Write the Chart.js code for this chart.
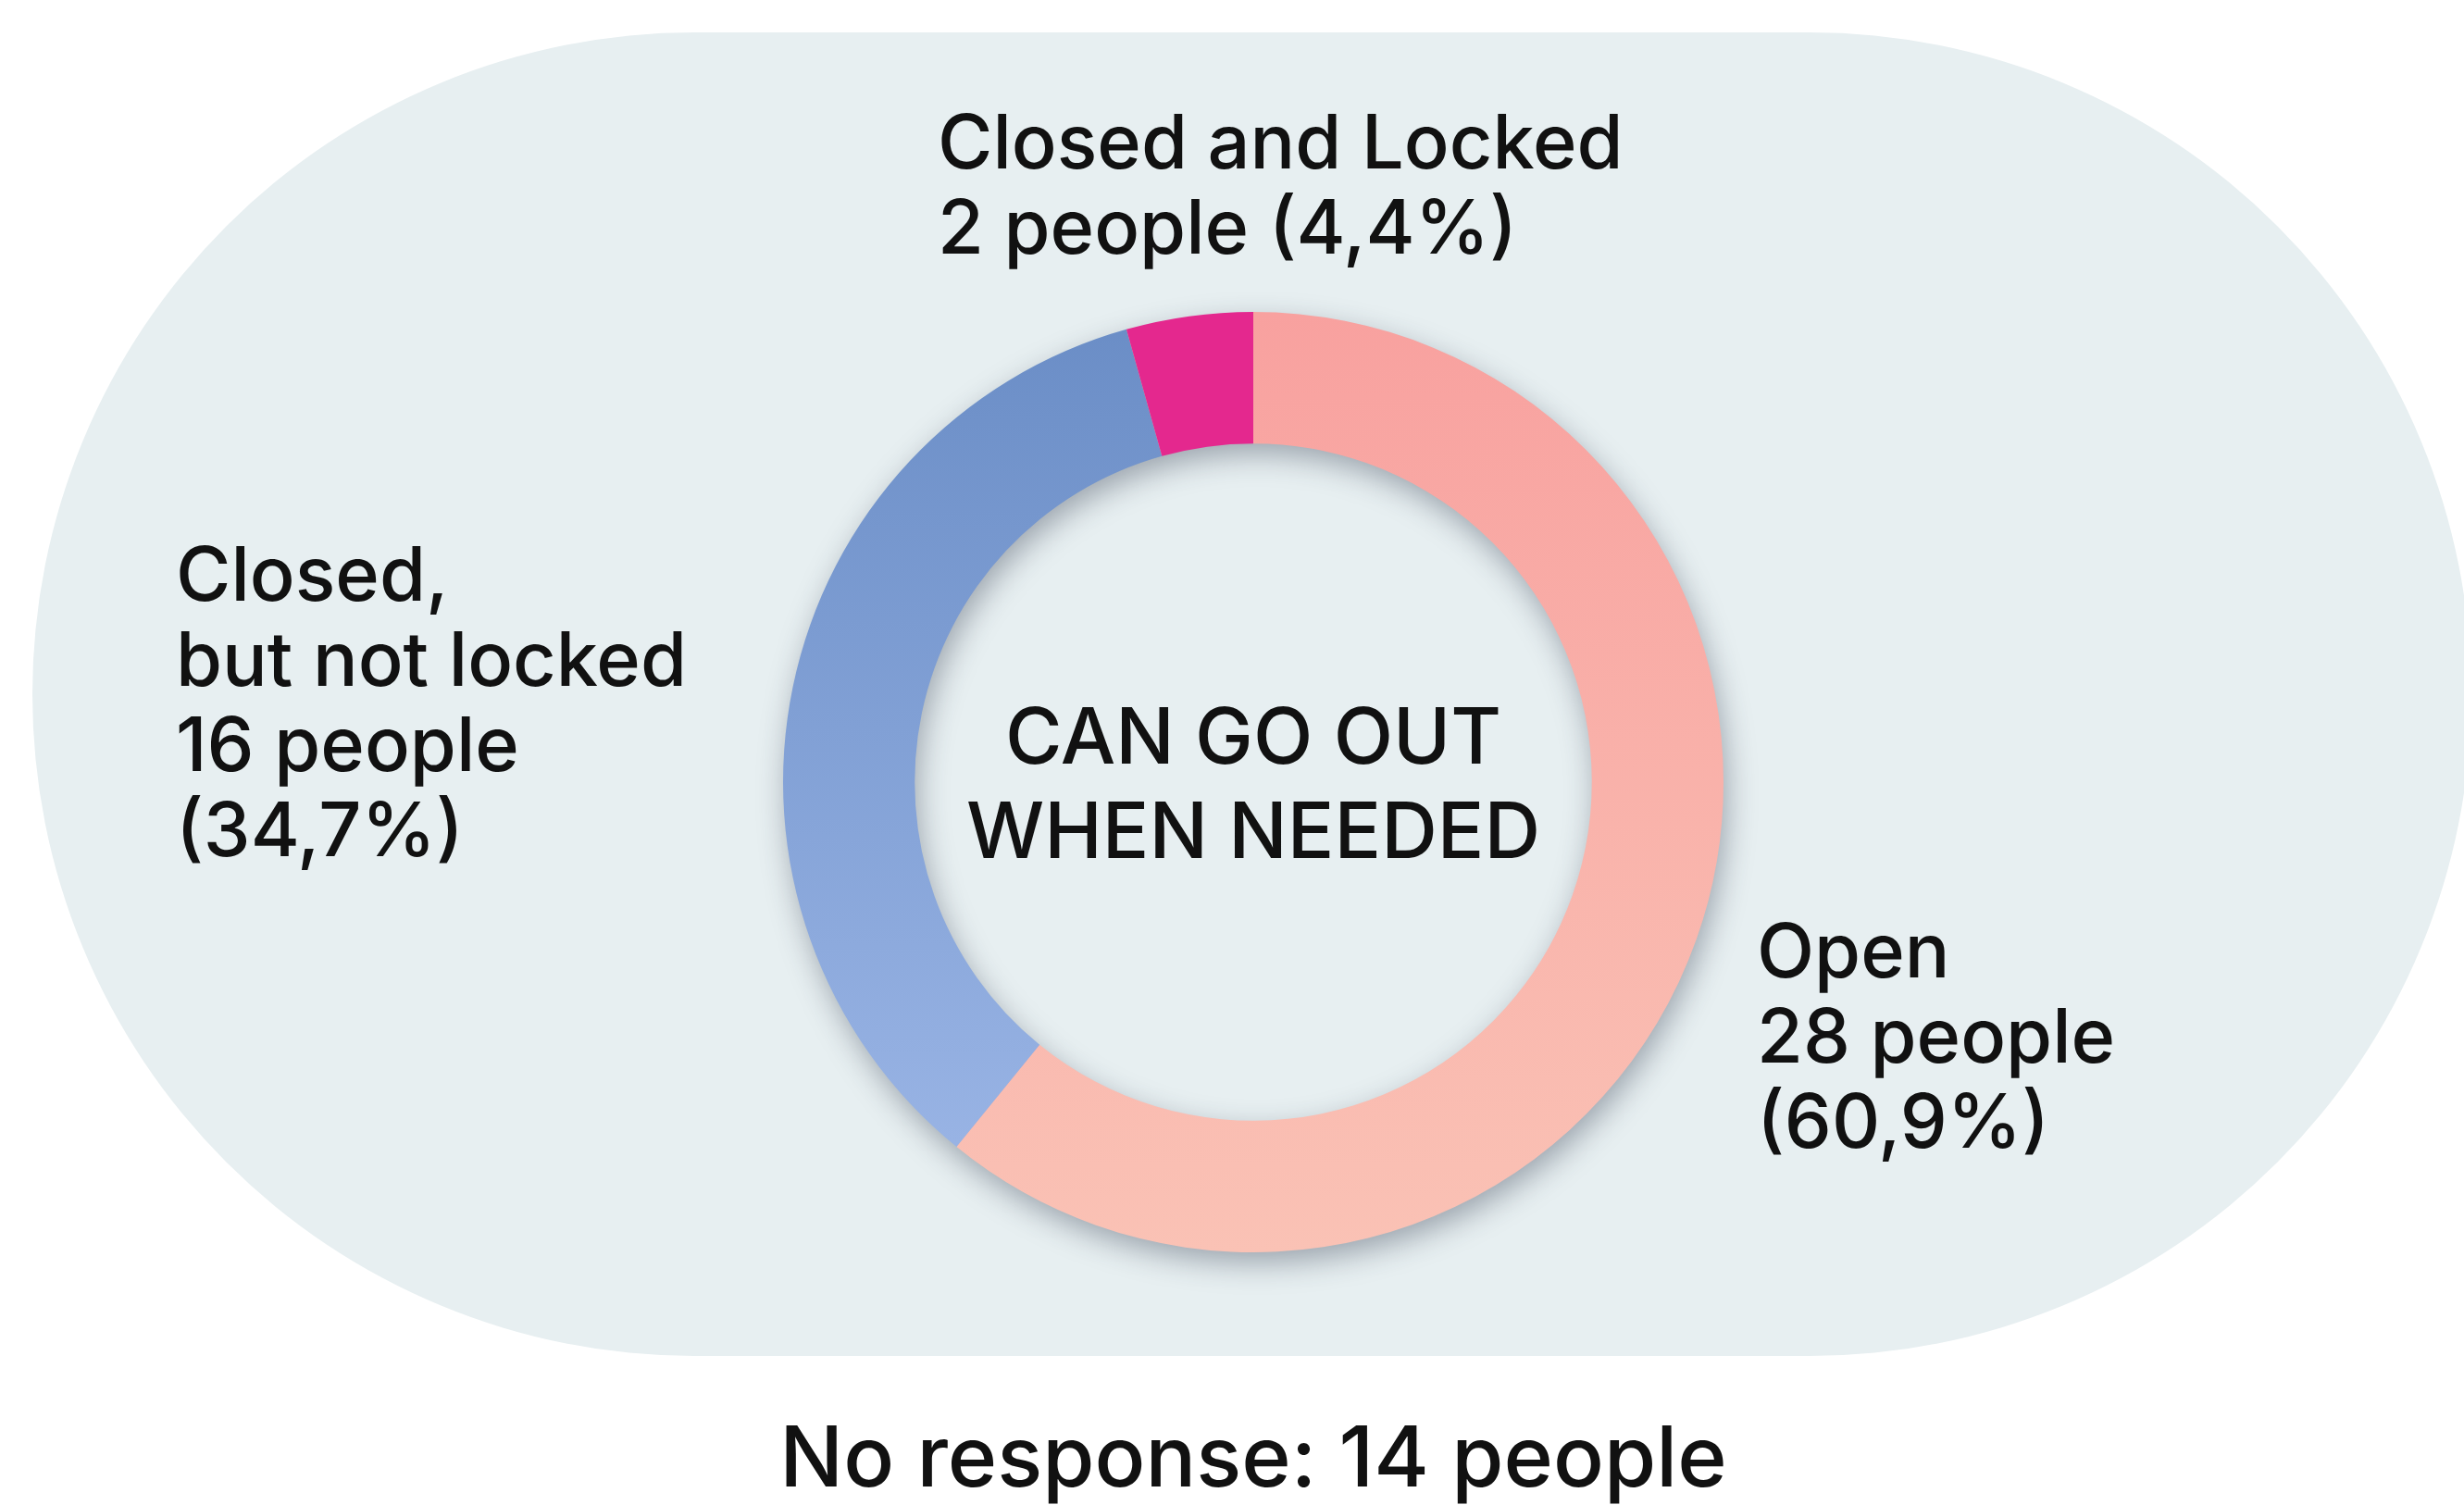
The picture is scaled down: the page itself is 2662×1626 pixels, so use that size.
<!DOCTYPE html>
<html>
<head>
<meta charset="utf-8">
<title>Can go out when needed</title>
<script src="https://cdn.jsdelivr.net/npm/chart.js@4.4.1/dist/chart.umd.min.js"></script>
<style>
  html, body { margin: 0; padding: 0; background: #fff; }
  #caixa { width: 2662px; height: 1626px; }
</style>
</head>
<body>
<div id="caixa"><canvas id="grafico"></canvas></div>
<script>
// Dados do gráfico
const categorias = [['Open'], ['Closed,', 'but not locked'], ['Closed and Locked']];
const pessoas = [28, 16, 2];
const percentuais = ['60,9', '34,7', '4,4'];
const semResposta = 14;
const textoCentro = ['CAN GO OUT', 'WHEN NEEDED'];

// Cores (topo -> base do anel)
const cores = [
    ['#F8A19F', '#FAC2B5'],
    ['#6A8DC6', '#9EB8E8'],
    ['#E4288E', '#E4288E']
];

// Posição de cada rótulo em relação ao centro do anel
const posRotulos = [
    { dx: 544, dy: 187, juntar: false },
    { dx: -1164, dy: -220, juntar: false },
    { dx: -341, dy: -687, juntar: true }
];

const FONTE = 'Inter, "Noto Sans", sans-serif';
const alturaLinha = 92;

function gradiente(chart, par) {
    const area = chart.chartArea;
    if (!area) return par[0];
    const g = chart.ctx.createLinearGradient(0, area.top, 0, area.bottom);
    g.addColorStop(0, par[0]);
    g.addColorStop(1, par[1]);
    return g;
}

// Fundo em forma de pílula
const fundoPilula = {
    id: 'fundoPilula',
    beforeDraw(chart) {
        const ctx = chart.ctx;
        ctx.save();
        ctx.fillStyle = '#E7EFF1';
        ctx.beginPath();
        ctx.roundRect(35, 35, 2635, 1430, 715);
        ctx.fill();
        ctx.restore();
    }
};

// Sombra suave por baixo do anel
const sombraAnel = {
    id: 'sombraAnel',
    beforeDatasetsDraw(chart) {
        const arco = chart.getDatasetMeta(0).data[0];
        if (!arco) return;
        const { x, y, innerRadius, outerRadius } = arco;
        const ctx = chart.ctx;
        ctx.save();
        ctx.shadowColor = 'rgba(40, 50, 70, 0.4)';
        ctx.shadowBlur = 32;
        ctx.shadowOffsetX = 4;
        ctx.shadowOffsetY = 12;
        ctx.fillStyle = '#F4B0A8';
        ctx.beginPath();
        ctx.arc(x, y, outerRadius - 1, 0, Math.PI * 2);
        ctx.arc(x, y, innerRadius + 1, 0, Math.PI * 2, true);
        ctx.fill();
        ctx.restore();
    }
};

// Rótulos, texto central e rodapé
const textos = {
    id: 'textos',
    afterDraw(chart) {
        const arco = chart.getDatasetMeta(0).data[0];
        if (!arco) return;
        const { x, y } = arco;
        const ctx = chart.ctx;
        ctx.save();
        ctx.fillStyle = '#111';
        ctx.textBaseline = 'middle';

        ctx.font = `500 81px ${FONTE}`;
        ctx.textAlign = 'left';
        categorias.forEach((nome, i) => {
            const pos = posRotulos[i];
            const linhas = [...nome];
            const valor = `${pessoas[i]} people`;
            const pct = `(${percentuais[i]}%)`;
            if (pos.juntar) linhas.push(`${valor} ${pct}`);
            else linhas.push(valor, pct);
            linhas.forEach((t, k) => {
                ctx.fillText(t, x + pos.dx, y + pos.dy + k * alturaLinha);
            });
        });

        ctx.textAlign = 'center';
        ctx.font = `500 84px ${FONTE}`;
        ctx.fillText(textoCentro[0], x, y - 45);
        ctx.fillText(textoCentro[1], x, y + 57);

        ctx.font = `500 91px ${FONTE}`;
        ctx.fillText(`No response: ${semResposta} people`, x, y + 734);
        ctx.restore();
    }
};

const chart = new Chart(document.getElementById('grafico'), {
    type: 'doughnut',
    data: {
        labels: categorias.map(c => c.join(' ')),
        datasets: [{
            data: pessoas,
            backgroundColor: (c) => gradiente(c.chart, cores[c.dataIndex]),
            borderWidth: 0
        }]
    },
    options: {
        responsive: true,
        maintainAspectRatio: false,
        animation: false,
        cutout: '72%',
        layout: { padding: { top: 337, bottom: 273, left: 400, right: 354 } },
        plugins: {
            legend: { display: false },
            tooltip: { enabled: false }
        }
    },
    plugins: [fundoPilula, sombraAnel, textos]
});
</script>
</body>
</html>
